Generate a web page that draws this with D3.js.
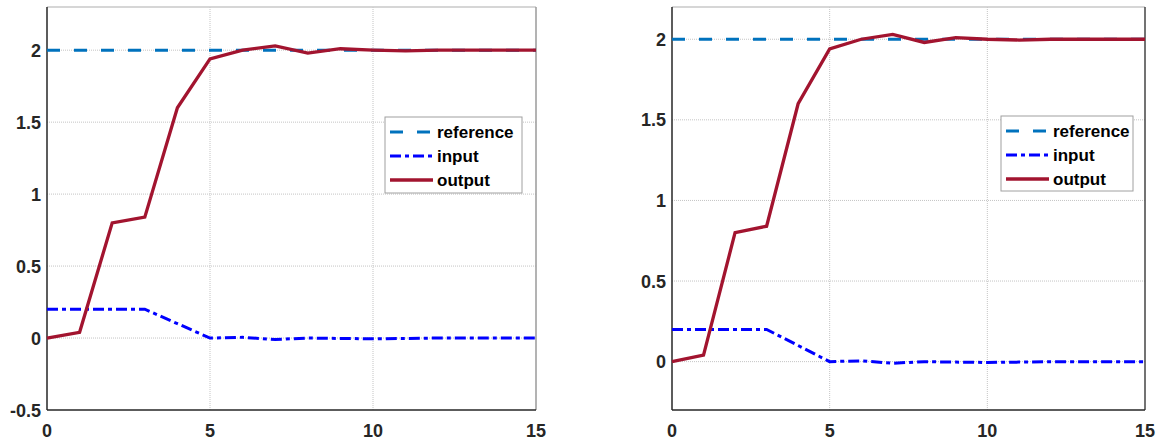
<!DOCTYPE html>
<html lang="en">
<head>
  <meta charset="UTF-8">
  <title>Step response</title>
  <script src="https://d3js.org/d3.v7.min.js"></script>
  <style>
    body { margin: 0; background: #fff; }
    .tick-label { font-family: "Liberation Sans", Arial, sans-serif; font-weight: bold; font-size: 18px; fill: #262626; }
    .legend-label { font-family: "Liberation Sans", Arial, sans-serif; font-weight: bold; font-size: 17px; fill: #000; }
    .grid { stroke: #c4c4c4; stroke-width: 1; stroke-dasharray: 1,1; }
  </style>
</head>
<body>
  <svg id="chart" width="1161" height="441"></svg>
  <script>
    // data, same for both panels
    const time = [0, 1, 2, 3, 4, 5, 6, 7, 8, 9, 10, 11, 12, 13, 14, 15];
    const reference = [2, 2, 2, 2, 2, 2, 2, 2, 2, 2, 2, 2, 2, 2, 2, 2];
    const input = [0.2, 0.2, 0.2, 0.2, 0.1, 0.0, 0.005, -0.01, 0.0, -0.003, -0.005, -0.003, 0.0, 0.0, 0.0, 0.0];
    const output = [0, 0.04, 0.8, 0.84, 1.6, 1.94, 2.0, 2.03, 1.98, 2.01, 2.0, 1.995, 2.0, 2.0, 2.0, 2.0];
    const xTicks = [0, 5, 10, 15];
    const legendNames = ["reference", "input", "output"];

    const series = [
      { name: "reference", values: reference, color: "#0072BD", dash: "13,14", width: 3 },
      { name: "input", values: input, color: "#0000FF", dash: "11,4,4,4", width: 3 },
      { name: "output", values: output, color: "#A2142F", dash: null, width: 3.3 }
    ];

    const panels = [
      { x0: 47, x1: 536, yDomain: [-0.5, 2.3], yTicks: [-0.5, 0, 0.5, 1, 1.5, 2],
        legend: { x: 385, y: 117, w: 137, h: 76 }, rightColor: "#9a9a9a" },
      { x0: 672, x1: 1145, yDomain: [-0.3, 2.2], yTicks: [0, 0.5, 1, 1.5, 2],
        legend: { x: 1001, y: 116, w: 132, h: 75 }, rightColor: "#444" }
    ];

    const svg = d3.select("#chart");
    const yTop = 7, yBottom = 410;

    panels.forEach(p => {
      const x = d3.scaleLinear().domain([0, 15]).range([p.x0, p.x1]);
      const y = d3.scaleLinear().domain(p.yDomain).range([yBottom, yTop]);
      const g = svg.append("g");

      // grid
      xTicks.slice(1, -1).forEach(t => {
        g.append("line").attr("class", "grid")
          .attr("x1", x(t)).attr("x2", x(t)).attr("y1", yTop).attr("y2", yBottom);
      });
      p.yTicks.forEach(t => {
        if (y(t) > yBottom - 1) return;
        g.append("line").attr("class", "grid")
          .attr("x1", p.x0).attr("x2", p.x1).attr("y1", y(t)).attr("y2", y(t));
      });

      // box
      g.append("line").attr("x1", p.x0).attr("x2", p.x1).attr("y1", yTop).attr("y2", yTop)
        .attr("stroke", "#c8c8c8").attr("stroke-width", 1.5);
      g.append("line").attr("x1", p.x1).attr("x2", p.x1).attr("y1", yTop).attr("y2", yBottom)
        .attr("stroke", p.rightColor).attr("stroke-width", 1.5);
      g.append("line").attr("x1", p.x0).attr("x2", p.x1).attr("y1", yBottom).attr("y2", yBottom)
        .attr("stroke", "#262626").attr("stroke-width", 1.5);
      g.append("line").attr("x1", p.x0).attr("x2", p.x0).attr("y1", yTop).attr("y2", yBottom)
        .attr("stroke", "#262626").attr("stroke-width", 1.5);

      // tick labels
      xTicks.forEach(t => {
        g.append("text").attr("class", "tick-label")
          .attr("x", x(t)).attr("y", 437).attr("text-anchor", "middle").text(t);
      });
      p.yTicks.forEach(t => {
        g.append("text").attr("class", "tick-label")
          .attr("x", p.x0 - 6).attr("y", y(t) + 6.5).attr("text-anchor", "end").text(t);
      });

      // lines
      const line = d3.line().x((d, i) => x(time[i])).y(d => y(d));
      series.forEach(s => {
        g.append("path").datum(s.values)
          .attr("fill", "none").attr("stroke", s.color).attr("stroke-width", s.width)
          .attr("stroke-dasharray", s.dash).attr("d", line);
      });

      // legend
      const L = p.legend;
      g.append("rect").attr("x", L.x).attr("y", L.y).attr("width", L.w).attr("height", L.h)
        .attr("fill", "#fff").attr("stroke", "#a0a0a0").attr("stroke-width", 1);
      legendNames.forEach((n, i) => {
        const s = series.find(d => d.name === n);
        const cy = L.y + 15 + i * 24;
        g.append("line").attr("x1", L.x + 5).attr("x2", L.x + 48).attr("y1", cy).attr("y2", cy)
          .attr("stroke", s.color).attr("stroke-width", s.width).attr("stroke-dasharray", s.dash);
        g.append("text").attr("class", "legend-label")
          .attr("x", L.x + 52).attr("y", cy + 6).text(n);
      });
    });
  </script>
</body>
</html>
